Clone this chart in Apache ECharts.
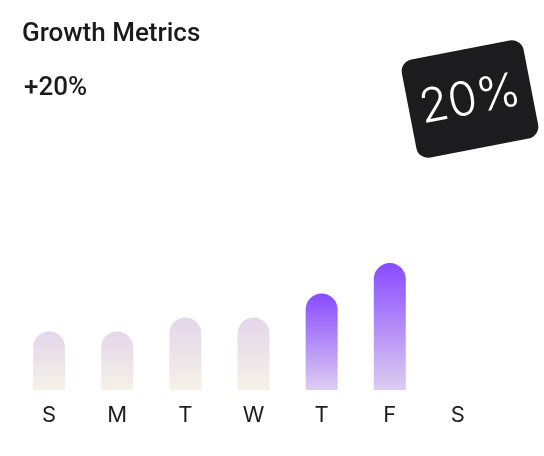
<!DOCTYPE html>
<html>
<head>
<meta charset="utf-8">
<script src="https://cdn.jsdelivr.net/npm/echarts@6/dist/echarts.min.js"></script>
<style>
html,body{margin:0;padding:0;background:#fff;}
#c{width:544px;height:456px;}
</style>
</head>
<body>
<div id="c"></div>
<script>
const days = ['S', 'M', 'T', 'W', 'T', 'F', 'S'];
const values = [46, 46, 57, 57, 76, 100, 0];
const highlighted = [false, false, false, false, true, true, false];
const titleText = 'Growth Metrics';
const changeText = '+20%';
const badgeText = '20%';

const lightGrad = new echarts.graphic.LinearGradient(0, 0, 0, 1, [
  {offset: 0, color: '#e3d6ea'},
  {offset: 1, color: '#f6f1e7'}
]);
const purpleGrad = new echarts.graphic.LinearGradient(0, 0, 0, 1, [
  {offset: 0, color: '#884bff'},
  {offset: 1, color: '#ddcdf1'}
]);

const chart = echarts.init(document.getElementById('c'), null, {renderer: 'canvas'});
chart.setOption({
  animation: false,
  grid: {left: 15, right: 52, top: 263, bottom: 66, containLabel: false},
  xAxis: {
    type: 'category',
    data: days,
    axisLine: {show: false},
    axisTick: {show: false},
    axisLabel: {fontFamily: 'Inter', fontSize: 22, color: '#1e1e1e', margin: 14}
  },
  yAxis: {type: 'value', min: 0, max: 100, show: false, splitLine: {show: false}},
  series: [{
    type: 'bar',
    barWidth: 32,
    data: values.map((v, i) => ({
      value: v,
      itemStyle: {color: highlighted[i] ? purpleGrad : lightGrad, borderRadius: [16, 16, 0, 0]}
    }))
  }],
  graphic: [
    {type: 'text', left: 22, top: 21, style: {text: titleText, font: '500 26px Roboto', fill: '#1a1a1a'}},
    {type: 'text', left: 24, top: 75, style: {text: changeText, font: '500 26px Roboto', fill: '#1a1a1a'}},
    {
      type: 'group',
      x: 470, y: 99,
      rotation: 11 * Math.PI / 180,
      children: [
        {type: 'rect', shape: {x: -62, y: -50, width: 124, height: 100, r: 12}, style: {fill: '#1c1c1e'}},
        {type: 'text', x: 0, y: 1, style: {text: badgeText, font: '300 47px Inter', fill: '#fff', align: 'center', verticalAlign: 'middle'}}
      ]
    }
  ]
});
</script>
</body>
</html>
